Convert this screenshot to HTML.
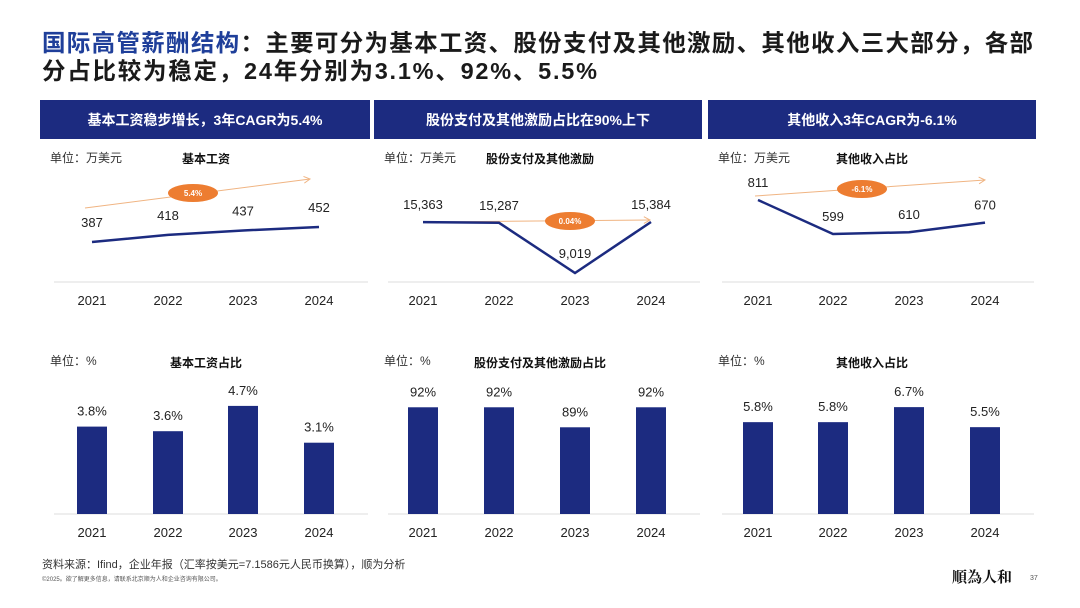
<!DOCTYPE html>
<html><head><meta charset="utf-8">
<style>
body{margin:0;width:1080px;height:608px;background:#fff;overflow:hidden;font-family:"Liberation Sans","Noto Sans CJK SC",sans-serif;}
svg{position:absolute;left:0;top:0}
</style></head>
<body>
<svg width="1080" height="608" id="s">
<text x="42" y="51" font-size="23.5" textLength="991" lengthAdjust="spacing" font-weight="bold" fill="#1a1a1a" font-family="Liberation Sans, Noto Sans CJK SC, sans-serif"><tspan fill="#1f3f9a">国际高管薪酬结构</tspan>：主要可分为基本工资、股份支付及其他激励、其他收入三大部分，各部</text>
<text x="42" y="79" font-size="23.5" textLength="555" lengthAdjust="spacing" font-weight="bold" fill="#1a1a1a" font-family="Liberation Sans, Noto Sans CJK SC, sans-serif">分占比较为稳定，24年分别为3.1%、92%、5.5%</text>
<text x="42" y="568" font-size="11" fill="#333">资料来源：Ifind，企业年报（汇率按美元=7.1586元人民币换算），顺为分析</text>
<text x="42" y="581" font-size="6" fill="#555">©2025。欲了解更多信息，请联系北京顺为人和企业咨询有限公司。</text>
<text x="952" y="582" font-size="15" font-weight="bold" fill="#111" font-family="Noto Serif CJK SC, serif">順為人和</text>
<text x="1030" y="580" font-size="7" fill="#555">37</text>
<g id="g"></g>
</svg>
<script>
const years=['2021','2022','2023','2024'];
const salary=[387,418,437,452];
const equity=[15363,15287,9019,15384];
const other=[811,599,610,670];
const salaryPct=[3.8,3.6,4.7,3.1];
const equityPct=[92,92,89,92];
const otherPct=[5.8,5.8,6.7,5.5];
const salaryLbl=['387','418','437','452'];
const equityLbl=['15,363','15,287','9,019','15,384'];
const otherLbl=['811','599','610','670'];
const salaryPctLbl=['3.8%','3.6%','4.7%','3.1%'];
const equityPctLbl=['92%','92%','89%','92%'];
const otherPctLbl=['5.8%','5.8%','6.7%','5.5%'];
const headers=['基本工资稳步增长，3年CAGR为5.4%','股份支付及其他激励占比在90%上下','其他收入3年CAGR为-6.1%'];
const lineTitles=['基本工资','股份支付及其他激励','其他收入占比'];
const barTitles=['基本工资占比','股份支付及其他激励占比','其他收入占比'];
const cagr=['5.4%','0.04%','-6.1%'];

const NS='http://www.w3.org/2000/svg',G=document.getElementById('g');
function el(t,a,txt){const e=document.createElementNS(NS,t);for(const k in a)e.setAttribute(k,a[k]);if(txt!=null)e.textContent=txt;G.appendChild(e);return e;}
const panels=[
 {x0:40,w:330,xs:[92,168,243,319],line:salary,ll:salaryLbl,dom:[387,452],rng:[242,227],bar:salaryPct,bl:salaryPctLbl,bmin:0,bk:23,
  arrow:[85,208,310,179],ell:[193,193]},
 {x0:374,w:328,xs:[423,499,575,651],line:equity,ll:equityLbl,dom:[9019,15384],rng:[273,222],bar:equityPct,bl:equityPctLbl,bmin:76,bk:6.67,
  arrow:[424,222,650,220],ell:[570,221]},
 {x0:708,w:328,xs:[758,833,909,985],line:other,ll:otherLbl,dom:[599,811],rng:[234,200],bar:otherPct,bl:otherPctLbl,bmin:0.3,bk:16.7,
  arrow:[755,196,985,180],ell:[862,189]}
];
panels.forEach((p,i)=>{
 let e;
 e=el('rect',{x:p.x0,y:100,width:p.w,height:39,fill:'#1c2b80'});
 
 e=el('text',{x:p.x0+p.w/2,y:125,'font-size':14,'font-weight':'bold',fill:'#fff','text-anchor':'middle'},headers[i]);
 
 e=el('text',{x:p.x0+10,y:162,'font-size':12,fill:'#333'},'单位：万美元');
 
 const tx=[206,540,872][i];
 e=el('text',{x:tx,y:163,'font-size':12,'font-weight':'bold',fill:'#111','text-anchor':'middle'},lineTitles[i]);
 
 const ys=v=>p.rng[0]+(v-p.dom[0])/(p.dom[1]-p.dom[0])*(p.rng[1]-p.rng[0]);
 e=el('line',{x1:p.x0+14,x2:p.x0+p.w-2,y1:282,y2:282,stroke:'#ddd','stroke-width':1});
 
 const a=p.arrow;
 e=el('line',{x1:a[0],y1:a[1],x2:a[2],y2:a[3],stroke:'#f0b482','stroke-width':1});
 
 const ang=Math.atan2(a[3]-a[1],a[2]-a[0]);
 const hx=a[2],hy=a[3],L=7;
 e=el('polyline',{points:`${hx-L*Math.cos(ang-0.5)},${hy-L*Math.sin(ang-0.5)} ${hx},${hy} ${hx-L*Math.cos(ang+0.5)},${hy-L*Math.sin(ang+0.5)}`,fill:'none',stroke:'#f0b482','stroke-width':1});
 
 e=el('polyline',{points:p.line.map((v,j)=>p.xs[j]+','+ys(v)).join(' '),fill:'none',stroke:'#1c2b80','stroke-width':2.5});
 
 e=el('ellipse',{cx:p.ell[0],cy:p.ell[1],rx:25,ry:9,fill:'#ed7d31'});
 
 e=el('text',{x:p.ell[0],y:p.ell[1]+3,'font-size':8,'font-weight':'bold',fill:'#fff','text-anchor':'middle'},cagr[i]);
 
 p.line.forEach((v,j)=>{
  const off=(i==1&&j==2)?-15:(i==0?-15:-13);
  e=el('text',{x:p.xs[j],y:ys(v)+off,'font-size':13,fill:'#222','text-anchor':'middle'},p.ll[j]);
  
  e=el('text',{x:p.xs[j],y:305,'font-size':13,fill:'#222','text-anchor':'middle'},years[j]);
  
 });
 e=el('text',{x:p.x0+10,y:365,'font-size':12,fill:'#333'},'单位：%');
 
 e=el('text',{x:tx,y:367,'font-size':12,'font-weight':'bold',fill:'#111','text-anchor':'middle'},barTitles[i]);
 
 e=el('line',{x1:p.x0+14,x2:p.x0+p.w-2,y1:514,y2:514,stroke:'#ddd','stroke-width':1});
 
 p.bar.forEach((v,j)=>{
  const h=(v-p.bmin)*p.bk;
  e=el('rect',{x:p.xs[j]-15,y:514-h,width:30,height:h,fill:'#1c2b80'});
  
  e=el('text',{x:p.xs[j],y:514-h-11,'font-size':13,fill:'#222','text-anchor':'middle'},p.bl[j]);
  
  e=el('text',{x:p.xs[j],y:537,'font-size':13,fill:'#222','text-anchor':'middle'},years[j]);
  
 });
});
</script>
</body></html>
